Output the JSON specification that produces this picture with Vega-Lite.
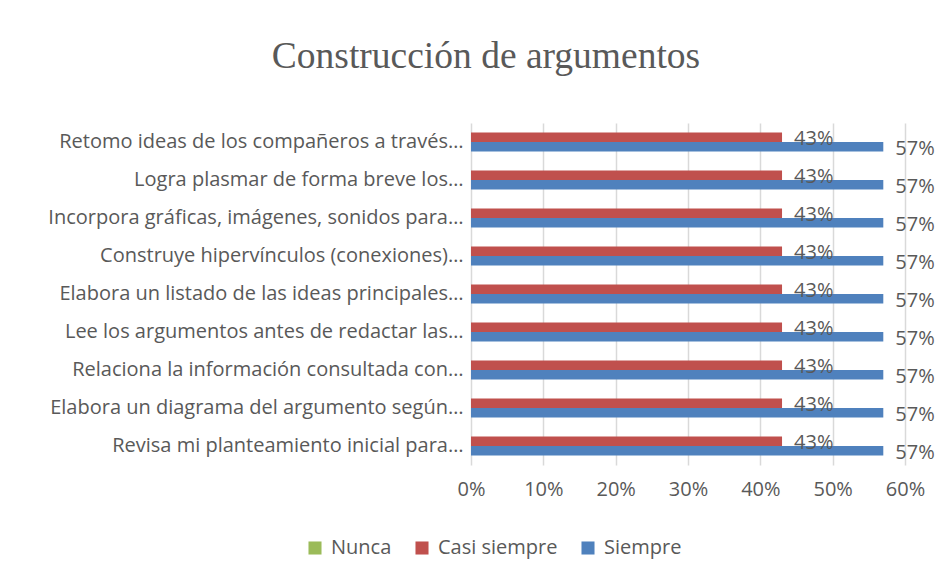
{
  "$schema": "https://vega.github.io/schema/vega-lite/v6.json",
  "width": 434,
  "height": 342,
  "autosize": {"type": "none"},
  "padding": {"left": 471, "top": 123, "right": 47, "bottom": 114},
  "background": "white",
  "title": {
    "text": "Construcción de argumentos",
    "font": "Liberation Serif",
    "fontSize": 37.5,
    "fontWeight": "normal",
    "color": "#595959",
    "anchor": "middle",
    "dx": -202,
    "offset": 48
  },
  "config": {
    "view": {"stroke": null},
    "font": "Open Sans"
  },
  "data": {
    "values": [
      {"item": "Retomo ideas de los compañeros a través…", "serie": "Nunca", "valor": 0},
      {"item": "Retomo ideas de los compañeros a través…", "serie": "Casi siempre", "valor": 0.43},
      {"item": "Retomo ideas de los compañeros a través…", "serie": "Siempre", "valor": 0.57},
      {"item": "Logra plasmar de forma breve los…", "serie": "Nunca", "valor": 0},
      {"item": "Logra plasmar de forma breve los…", "serie": "Casi siempre", "valor": 0.43},
      {"item": "Logra plasmar de forma breve los…", "serie": "Siempre", "valor": 0.57},
      {"item": "Incorpora gráficas, imágenes, sonidos para…", "serie": "Nunca", "valor": 0},
      {"item": "Incorpora gráficas, imágenes, sonidos para…", "serie": "Casi siempre", "valor": 0.43},
      {"item": "Incorpora gráficas, imágenes, sonidos para…", "serie": "Siempre", "valor": 0.57},
      {"item": "Construye hipervínculos (conexiones)…", "serie": "Nunca", "valor": 0},
      {"item": "Construye hipervínculos (conexiones)…", "serie": "Casi siempre", "valor": 0.43},
      {"item": "Construye hipervínculos (conexiones)…", "serie": "Siempre", "valor": 0.57},
      {"item": "Elabora un listado de las ideas principales…", "serie": "Nunca", "valor": 0},
      {"item": "Elabora un listado de las ideas principales…", "serie": "Casi siempre", "valor": 0.43},
      {"item": "Elabora un listado de las ideas principales…", "serie": "Siempre", "valor": 0.57},
      {"item": "Lee los argumentos antes de redactar las…", "serie": "Nunca", "valor": 0},
      {"item": "Lee los argumentos antes de redactar las…", "serie": "Casi siempre", "valor": 0.43},
      {"item": "Lee los argumentos antes de redactar las…", "serie": "Siempre", "valor": 0.57},
      {"item": "Relaciona la información consultada con…", "serie": "Nunca", "valor": 0},
      {"item": "Relaciona la información consultada con…", "serie": "Casi siempre", "valor": 0.43},
      {"item": "Relaciona la información consultada con…", "serie": "Siempre", "valor": 0.57},
      {"item": "Elabora un diagrama del argumento según…", "serie": "Nunca", "valor": 0},
      {"item": "Elabora un diagrama del argumento según…", "serie": "Casi siempre", "valor": 0.43},
      {"item": "Elabora un diagrama del argumento según…", "serie": "Siempre", "valor": 0.57},
      {"item": "Revisa mi planteamiento inicial para…", "serie": "Nunca", "valor": 0},
      {"item": "Revisa mi planteamiento inicial para…", "serie": "Casi siempre", "valor": 0.43},
      {"item": "Revisa mi planteamiento inicial para…", "serie": "Siempre", "valor": 0.57}
    ]
  },
  "transform": [{"filter": "datum.valor > 0"}],
  "encoding": {
    "y": {
      "field": "item",
      "type": "nominal",
      "sort": null,
      "scale": {"paddingInner": 0.5, "paddingOuter": 0.25},
      "axis": {
        "title": null,
        "domain": false,
        "ticks": false,
        "labelFontSize": 20,
        "labelColor": "#595959",
        "labelPadding": 8,
        "labelLimit": 470
      }
    },
    "yOffset": {
      "field": "serie",
      "type": "nominal",
      "scale": {"domain": ["Casi siempre", "Siempre"], "paddingInner": 0, "paddingOuter": 0}
    },
    "x": {
      "field": "valor",
      "type": "quantitative",
      "scale": {"domain": [0, 0.6]},
      "axis": {
        "title": null,
        "format": ".0%",
        "values": [0, 0.1, 0.2, 0.3, 0.4, 0.5, 0.6],
        "domain": false,
        "ticks": false,
        "grid": true,
        "gridColor": "#D9D9D9",
        "gridWidth": 1.5,
        "labelFlush": false,
        "labelFontSize": 20,
        "labelColor": "#595959",
        "labelPadding": 14
      }
    }
  },
  "layer": [
    {
      "mark": {"type": "bar"},
      "encoding": {
        "color": {
          "field": "serie",
          "type": "nominal",
          "scale": {
            "domain": ["Nunca", "Casi siempre", "Siempre"],
            "range": ["#9BBB59", "#C0504D", "#4F81BD"]
          },
          "legend": {
            "title": null,
            "orient": "none",
            "direction": "horizontal",
            "legendX": -166,
            "legendY": 415,
            "symbolType": "square",
            "symbolSize": 170,
            "symbolStrokeWidth": 0,
            "labelFontSize": 20,
            "labelColor": "#595959",
            "columnPadding": 20,
            "labelOffset": 6
          }
        }
      }
    },
    {
      "mark": {"type": "text", "align": "left", "baseline": "middle", "dx": 12, "dy": 2, "fontSize": 20, "color": "#595959"},
      "encoding": {
        "text": {"field": "valor", "type": "quantitative", "format": ".0%"}
      }
    }
  ]
}
